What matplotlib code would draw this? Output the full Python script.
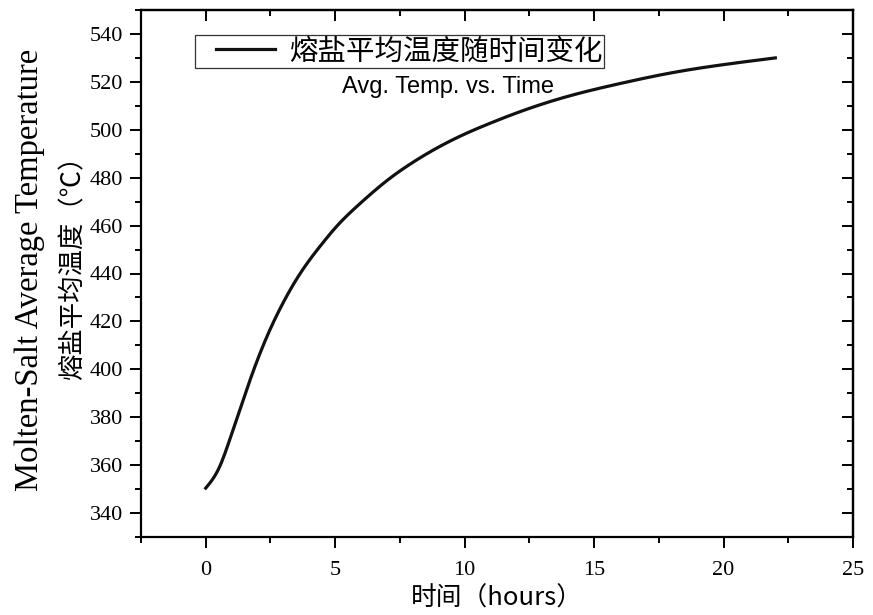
import matplotlib
matplotlib.use("Agg")
import matplotlib.pyplot as plt
from matplotlib.ticker import MultipleLocator
from matplotlib.legend_handler import HandlerLine2D
import numpy as np

# Data
time_h = [0, 0.5, 1.0, 1.5, 2.0, 2.5, 3.0, 3.5, 4.0, 4.5, 5.0, 6.0, 7.0, 8.0, 9.0, 10.0, 11.0, 12.0, 14.0, 16.0, 18.0, 20.0, 22.0]
temp_c = [350.4, 358.5, 373.0, 389.0, 404.0, 417.0, 428.0, 437.5, 445.5, 452.5, 459.0, 469.6, 478.8, 486.4, 492.8, 498.2, 502.8, 507.0, 514.0, 519.3, 523.8, 527.2, 530.0]

legend_label = "熔盐平均温度随时间变化"
annot_text = "Avg. Temp. vs. Time"
xlabel = "时间（hours）"
ylabel_en = "Molten-Salt Average Temperature"
ylabel_cn = "熔盐平均温度（℃）"
xticks = [0, 5, 10, 15, 20, 25]
yticks = [340, 360, 380, 400, 420, 440, 460, 480, 500, 520, 540]

CJK = ["Noto Sans CJK SC", "DejaVu Sans"]
SERIF = ["Liberation Serif", "DejaVu Serif"]


def natural_spline(x, y, xs):
    """Natural cubic spline through the read points (for drawing a smooth line)."""
    x = np.asarray(x, float); y = np.asarray(y, float)
    n = len(x)
    h = np.diff(x)
    A = np.zeros((n, n)); b = np.zeros(n)
    A[0, 0] = 1; A[-1, -1] = 1
    for i in range(1, n - 1):
        A[i, i-1] = h[i-1]; A[i, i] = 2*(h[i-1] + h[i]); A[i, i+1] = h[i]
        b[i] = 3*((y[i+1]-y[i])/h[i] - (y[i]-y[i-1])/h[i-1])
    c = np.linalg.solve(A, b)
    bb = (y[1:]-y[:-1])/h - h*(2*c[:-1] + c[1:])/3
    d = (c[1:] - c[:-1])/(3*h)
    k = np.clip(np.searchsorted(x, xs, side='right') - 1, 0, n - 2)
    dx = xs - x[k]
    return y[k] + bb[k]*dx + c[k]*dx**2 + d[k]*dx**3


xs = np.linspace(time_h[0], time_h[-1], 600)
ys = natural_spline(time_h, temp_c, xs)

fig = plt.figure(figsize=(8.73, 6.15), dpi=100)
ax = fig.add_axes([141/873, 1-537/615, 712/873, 527/615])

ax.plot(xs, ys, color="#111111", linewidth=2.3, label=legend_label)

ax.set_xlim(-2.5, 25)
ax.set_ylim(330, 550)
ax.set_xticks(xticks)
ax.set_yticks(yticks)
ax.xaxis.set_minor_locator(MultipleLocator(2.5))
ax.yaxis.set_minor_locator(MultipleLocator(10))

for s in ax.spines.values():
    s.set_linewidth(1.6)

ax.tick_params(which='both', direction='out', top=False, right=False, width=1.4)
ax.tick_params(which='major', length=8)
ax.tick_params(which='minor', length=4.5)
for lab in ax.get_xticklabels() + ax.get_yticklabels():
    lab.set_family(SERIF)
    lab.set_fontsize(16)
ax.tick_params(axis='x', pad=9)
ax.tick_params(axis='y', pad=5)

# inward ticks on top and right
top = ax.secondary_xaxis('top')
top.set_xticks(xticks)
top.xaxis.set_minor_locator(MultipleLocator(2.5))
top.tick_params(which='both', direction='in', labeltop=False, width=1.4)
top.tick_params(which='major', length=8)
top.tick_params(which='minor', length=4.5)
top.spines['top'].set_linewidth(1.6)
right = ax.secondary_yaxis('right')
right.set_yticks(yticks)
right.yaxis.set_minor_locator(MultipleLocator(10))
right.tick_params(which='both', direction='in', labelright=False, width=1.4)
right.tick_params(which='major', length=8)
right.tick_params(which='minor', length=4.5)
right.spines['right'].set_linewidth(1.6)

ax.set_xlabel(xlabel, family=CJK, fontsize=18.5, labelpad=4)
ax.set_ylabel(ylabel_cn, family=CJK, fontsize=19, labelpad=2)
ax.yaxis.label.set_y((537-261)/527)
fig.text(30/873, 1-270/615, ylabel_en, family=SERIF, fontsize=23.5,
         rotation=90, ha='center', va='center')

leg_fs = 20.5
leg = ax.legend(loc='upper left', bbox_to_anchor=((195-141)/712, (537-35)/527),
                borderaxespad=0, prop={'family': CJK, 'size': leg_fs},
                frameon=True, fancybox=False, edgecolor='#333333',
                handlelength=2.75, handletextpad=0.5, borderpad=0.05,
                framealpha=1,
                handler_map={matplotlib.lines.Line2D: HandlerLine2D(xpad=0.7)})
leg.get_frame().set_linewidth(0.9)

ax.text((448-141)/712, (537-87)/527, annot_text, transform=ax.transAxes,
        family=["Liberation Sans", "DejaVu Sans"], fontsize=17,
        ha='center', va='center')

fig.savefig("out.png", dpi=100)
